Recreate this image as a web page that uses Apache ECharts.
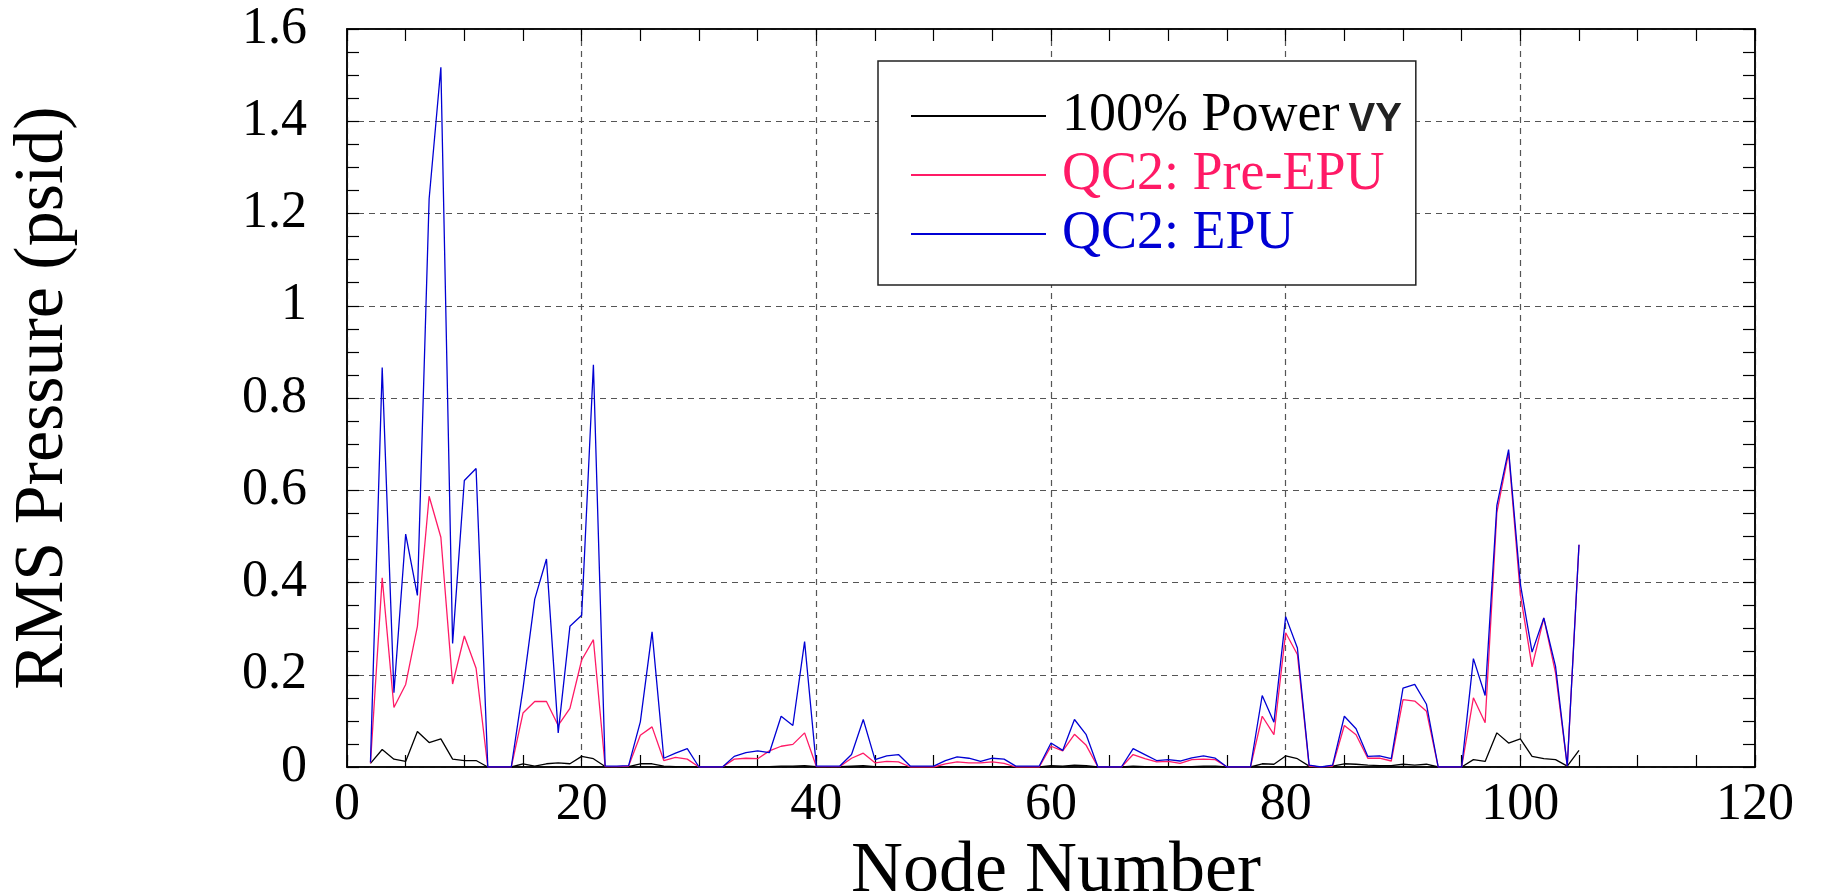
<!DOCTYPE html>
<html>
<head>
<meta charset="utf-8">
<script src="https://cdn.jsdelivr.net/npm/echarts@6/dist/echarts.min.js"></script>
<style>
html,body{margin:0;padding:0;background:#fff;}
#chart{width:1823px;height:891px;}
</style>
</head>
<body>
<div id="chart"></div>
<script>
// Node numbers (x) and RMS pressure values
const nodes = [2,3,4,5,6,7,8,9,10,11,12,13,14,15,16,17,18,19,20,21,22,23,24,25,26,27,28,29,30,31,32,33,34,35,36,37,38,39,40,41,42,43,44,45,46,47,48,49,50,51,52,53,54,55,56,57,58,59,60,61,62,63,64,65,66,67,68,69,70,71,72,73,74,75,76,77,78,79,80,81,82,83,84,85,86,87,88,89,90,91,92,93,94,95,96,97,98,99,100,101,102,103,104,105];

const power100 = [0.008,0.038,0.017,0.012,0.077,0.053,0.061,0.017,0.014,0.014,0,0,0,0.007,0.002,0.007,0.009,0.007,0.023,0.018,0.001,0.001,0.001,0.007,0.007,0.002,0.001,0.001,0,0,0,0.001,0.001,0.001,0.001,0.002,0.002,0.003,0.001,0.001,0.001,0.002,0.003,0.001,0.001,0.001,0,0,0,0.001,0.001,0.001,0.001,0.001,0.001,0,0,0,0.003,0.002,0.004,0.003,0,0,0,0.002,0.001,0.001,0.001,0.001,0.001,0.002,0.002,0,0,0,0.007,0.006,0.024,0.018,0.002,0,0.002,0.007,0.006,0.004,0.003,0.003,0.006,0.004,0.006,0,0,0,0.016,0.012,0.074,0.052,0.061,0.023,0.018,0.016,0.002,0.036];

const preEPU = [0.008,0.41,0.129,0.179,0.305,0.587,0.498,0.18,0.284,0.214,0,0,0,0.117,0.142,0.142,0.09,0.127,0.232,0.276,0.001,0.001,0.002,0.069,0.087,0.014,0.021,0.017,0,0,0,0.017,0.019,0.018,0.035,0.045,0.049,0.074,0.001,0.001,0.001,0.019,0.030,0.009,0.012,0.011,0,0,0,0.007,0.011,0.009,0.009,0.011,0.008,0,0,0,0.045,0.035,0.071,0.047,0,0,0,0.027,0.018,0.011,0.012,0.008,0.016,0.017,0.016,0,0,0,0.110,0.070,0.291,0.244,0.002,0,0.002,0.090,0.070,0.019,0.019,0.013,0.146,0.143,0.121,0,0,0,0.150,0.096,0.552,0.681,0.375,0.217,0.323,0.204,0.002,0.482];

const epu = [0.01,0.866,0.161,0.505,0.372,1.232,1.517,0.268,0.621,0.647,0,0,0,0.17,0.364,0.451,0.074,0.305,0.329,0.872,0.002,0.002,0.003,0.098,0.293,0.019,0.030,0.040,0,0,0,0.023,0.031,0.035,0.031,0.110,0.090,0.272,0.002,0.002,0.002,0.027,0.103,0.016,0.024,0.027,0.002,0.002,0.002,0.014,0.022,0.019,0.012,0.019,0.017,0.002,0.002,0.002,0.052,0.036,0.103,0.070,0,0,0,0.040,0.027,0.014,0.016,0.013,0.020,0.024,0.019,0,0,0,0.155,0.097,0.326,0.258,0.004,0,0.004,0.110,0.083,0.023,0.024,0.018,0.171,0.179,0.136,0,0,0,0.235,0.155,0.567,0.688,0.397,0.249,0.323,0.218,0.002,0.482];

const seriesNames = ['100% Power', 'QC2: Pre-EPU', 'QC2: EPU'];
const seriesColors = ['#000000', '#ff1a66', '#0000d4'];
const seriesValues = [power100, preEPU, epu];

const FONT = 'Liberation Serif';

function pairs(vals){ return nodes.map((n,i)=>[n, vals[i]]); }

const tickStyle = {show:true, inside:true, length:12, lineStyle:{color:'#000', width:1.2}};
const minorStyle = {show:true, splitNumber:4, length:12, lineStyle:{color:'#000', width:1.2}};
const dashGrid = {show:true, lineStyle:{color:'#555', width:1.2, type:[6,5]}};

const chart = echarts.init(document.getElementById('chart'), null, {renderer:'canvas'});
chart.setOption({
  animation:false,
  backgroundColor:'#fff',
  grid:{left:347, right:68, top:29, bottom:124, outerBoundsMode:'none', containLabel:false,
        show:true, borderColor:'#000', borderWidth:1.5, backgroundColor:'transparent'},
  xAxis:[{
    type:'value', min:0, max:120, interval:20, position:'bottom',
    axisLine:{show:true, onZero:false, lineStyle:{color:'#000', width:1.5}},
    axisTick:tickStyle, minorTick:minorStyle,
    splitLine:dashGrid,
    axisLabel:{color:'#000', fontFamily:FONT, fontSize:52, margin:12},
    name:'Node Number', nameLocation:'middle', nameGap:48,
    nameTextStyle:{color:'#000', fontFamily:FONT, fontSize:72, padding:[0,0,0,10]}
  },{
    type:'value', min:0, max:120, interval:20, position:'top',
    axisLine:{show:true, onZero:false, lineStyle:{color:'#000', width:1.5}},
    axisTick:tickStyle, minorTick:minorStyle,
    splitLine:{show:false}, axisLabel:{show:false}
  }],
  yAxis:[{
    type:'value', min:0, max:1.6, interval:0.2, position:'left',
    axisLine:{show:true, onZero:false, lineStyle:{color:'#000', width:1.5}},
    axisTick:tickStyle, minorTick:minorStyle,
    splitLine:dashGrid,
    axisLabel:{color:'#000', fontFamily:FONT, fontSize:52, margin:40},
    name:'RMS Pressure (psid)', nameLocation:'middle', nameGap:268,
    nameTextStyle:{color:'#000', fontFamily:FONT, fontSize:70}
  },{
    type:'value', min:0, max:1.6, interval:0.2, position:'right',
    axisLine:{show:true, onZero:false, lineStyle:{color:'#000', width:1.5}},
    axisTick:tickStyle, minorTick:minorStyle,
    splitLine:{show:false}, axisLabel:{show:false}
  }],
  legend:{
    orient:'vertical', left:878, top:61,
    padding:[28, 14, 24, 32],
    itemWidth:135, itemHeight:14, itemGap:5,
    itemStyle:{opacity:0},
    backgroundColor:'#fff', borderColor:'#222', borderWidth:1.5,
    textStyle:{fontFamily:FONT, fontSize:54, padding:[0,0,0,11],
      rich:{vy:{fontFamily:'Liberation Sans', fontWeight:'bold', fontSize:40, color:'#222', padding:[8,0,0,9]}}},
    formatter:function(name){ return name === '100% Power' ? name + '{vy|VY}' : name; },
    data:seriesNames.map((n,i)=>({name:n, textStyle:{color:seriesColors[i]}}))
  },
  series:seriesNames.map((n,i)=>({
    name:n, type:'line', xAxisIndex:0, yAxisIndex:0,
    data:pairs(seriesValues[i]),
    showSymbol:false, symbol:'none',
    lineStyle:{color:seriesColors[i], width:1.3},
    itemStyle:{color:seriesColors[i]},
    z:2+i
  }))
});
</script>
</body>
</html>
